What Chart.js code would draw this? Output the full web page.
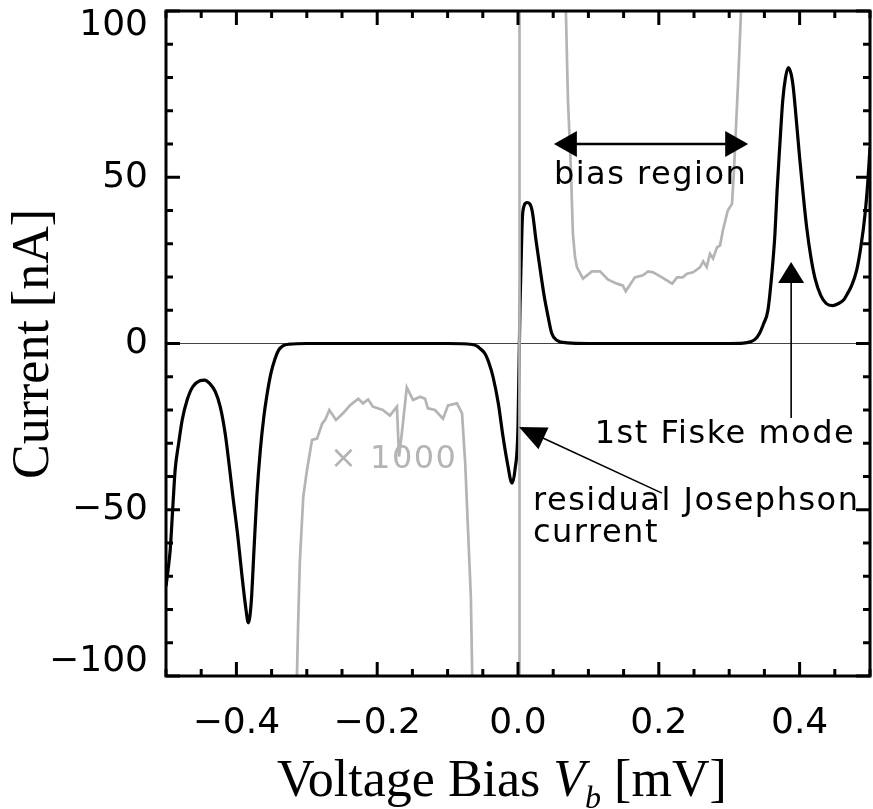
<!DOCTYPE html>
<html><head><meta charset="utf-8">
<script src="https://cdn.jsdelivr.net/npm/chart.js@4"></script>
<style>html,body{margin:0;padding:0;background:#fff}canvas{display:block}</style>
</head><body>
<canvas id="c" width="873" height="809"></canvas>
<script>
// ---- data ----
const xTickValues = [-0.4, -0.2, 0.0, 0.2, 0.4];
const xTickLabels = ['\u22120.4', '\u22120.2', '0.0', '0.2', '0.4'];
const yTickValues = [-100, -50, 0, 50, 100];
const yTickLabels = [['\u2212100', ''], '\u221250', '0', '50', ['', '100']];

// measured current (nA) vs voltage bias (mV)
const biasV = [-0.5,-0.497,-0.494,-0.49,-0.487,-0.482,-0.477,-0.47,-0.462,-0.452,-0.445,-0.438,-0.43,-0.423,-0.416,-0.41,-0.405,-0.398,-0.392,-0.387,-0.383,-0.379,-0.375,-0.371,-0.366,-0.361,-0.357,-0.351,-0.345,-0.34,-0.334,-0.325,-0.3,-0.2,-0.1,-0.065,-0.058,-0.054,-0.047,-0.041,-0.0355,-0.028,-0.0213,-0.015,-0.0085,-0.0043,0,0.0028,0.0057,0.0071,0.0128,0.02,0.0256,0.031,0.037,0.043,0.048,0.055,0.07,0.1,0.2,0.3,0.32,0.33,0.337,0.343,0.349,0.355,0.361,0.365,0.368,0.372,0.376,0.38,0.384,0.388,0.391,0.395,0.4,0.405,0.41,0.416,0.422,0.43,0.438,0.447,0.455,0.462,0.468,0.474,0.481,0.487,0.493,0.497,0.5];
const currentI = [-73,-68,-62,-48,-38,-30,-23,-17,-13,-11.2,-11,-12,-14.5,-19,-27,-37,-46,-58,-70,-79,-84,-78,-62,-46,-32,-22,-16,-9,-4.5,-2,-0.7,-0.2,0,0,0,-0.3,-0.8,-1.5,-3,-6,-10,-18,-28,-36,-42,-38,-25,11,35,40,42.4,40,31,23,14.5,7.8,3,1,0.2,0,0,0,0.1,0.5,1.3,3,6,10,22,33,46,60,73,80,83,81,77,68,56,45,35,26,19.5,14.5,12,11.4,12,13,15,17.5,22,29,39,49,59];

// current x 1000 (grey trace, runs off scale)
const scaledV = [-0.33,-0.314,-0.3125,-0.31,-0.305,-0.2997,-0.2926,-0.2855,-0.278,-0.274,-0.268,-0.2585,-0.2486,-0.2386,-0.227,-0.22,-0.213,-0.206,-0.192,-0.182,-0.172,-0.169,-0.165,-0.158,-0.149,-0.139,-0.132,-0.128,-0.118,-0.1065,-0.0994,-0.0866,-0.0795,-0.075,-0.071,-0.067,-0.065,-0.055,0.0015,0.0021,0.055,0.068,0.071,0.075,0.078,0.081,0.0838,0.0923,0.105,0.1165,0.128,0.1406,0.149,0.153,0.166,0.1776,0.1847,0.192,0.2045,0.219,0.226,0.234,0.24,0.2486,0.2585,0.263,0.268,0.2727,0.277,0.2827,0.287,0.291,0.298,0.304,0.307,0.3125,0.3168,0.33];
const scaledI = [-250,-100,-86,-66,-46,-38,-29,-28.6,-24,-23,-20,-23,-21,-18.6,-16.6,-18,-16.8,-19,-20,-21.7,-19,-34,-27,-13.2,-17,-16,-16.6,-19.5,-20,-22.6,-18.6,-18,-21,-36,-56,-76,-100,-250,-250,250,250,100,73,53,33,26,22.9,19.5,21.7,21.7,19.2,18,17.4,15.7,19.9,20.5,21.7,21.4,19.9,18,19.9,19.9,21,21.4,22.9,24.7,23,27,25.6,28.9,29.5,34,40,42,53,78,100,250];

const zeroV = [-0.5, 0.5];
const zeroI = [0, 0];

// annotations (data coordinates)
const noteTexts = ['bias region', '1st Fiske mode', 'residual Josephson', 'current', '\u00d7 1000'];
const noteX = [0.051, 0.109, 0.0213, 0.0213, -0.267];
const noteY = [47.9, -29.8, -50, -59.7, -37.3];

const GREY = '#b4b4b4';
const toPts = (xs, ys) => xs.map((v, i) => ({x: v, y: ys[i]}));

const decor = {
  id: 'decor',
  afterDatasetsDraw(chart) {
    const {ctx, chartArea: a, scales: {x, y}} = chart;
    ctx.save();
    // inward ticks on all four sides
    ctx.strokeStyle = '#000';
    ctx.lineWidth = 3;
    const seg = (x1, y1, x2, y2) => { ctx.beginPath(); ctx.moveTo(x1, y1); ctx.lineTo(x2, y2); ctx.stroke(); };
    for (let k = -10; k <= 10; k++) {
      const v = k * 0.05;
      const major = xTickValues.some(m => Math.abs(m - v) < 1e-6);
      const L = major ? 14 : 7;
      const px = x.getPixelForValue(v);
      seg(px, a.bottom, px, a.bottom - L);
      seg(px, a.top, px, a.top + L);
    }
    for (let k = -10; k <= 10; k++) {
      const v = k * 10;
      const major = yTickValues.some(m => Math.abs(m - v) < 1e-6);
      const L = major ? 14 : 7;
      const py = y.getPixelForValue(v);
      seg(a.left, py, a.left + L, py);
      seg(a.right, py, a.right - L, py);
    }
    ctx.strokeRect(a.left, a.top, a.right - a.left, a.bottom - a.top);

    // arrows
    const head = (tx, ty, fx, fy, L, W) => {
      const dx = tx - fx, dy = ty - fy, d = Math.hypot(dx, dy);
      const ux = dx / d, uy = dy / d, nx = -uy, ny = ux;
      ctx.beginPath();
      ctx.moveTo(tx, ty);
      ctx.lineTo(tx - L * ux + W * nx, ty - L * uy + W * ny);
      ctx.lineTo(tx - L * ux - W * nx, ty - L * uy - W * ny);
      ctx.closePath();
      ctx.fill();
    };
    ctx.fillStyle = '#000';
    // bias region double arrow
    let ax1 = x.getPixelForValue(0.051), ax2 = x.getPixelForValue(0.327), ay = y.getPixelForValue(60);
    ctx.lineWidth = 2.5;
    seg(ax1 + 10, ay, ax2 - 10, ay);
    head(ax1, ay, ax2, ay, 23, 13);
    head(ax2, ay, ax1, ay, 23, 13);
    // Fiske arrow
    let fx = x.getPixelForValue(0.388), fy1 = y.getPixelForValue(-22.4), fy2 = y.getPixelForValue(24.5);
    ctx.lineWidth = 1.6;
    seg(fx, fy1, fx, fy2 + 10);
    head(fx, fy2, fx, fy1, 21, 13);
    // residual arrow
    let rx1 = x.getPixelForValue(0.2045), ry1 = y.getPixelForValue(-45), rx2 = x.getPixelForValue(0.0014), ry2 = y.getPixelForValue(-25.1);
    seg(rx1, ry1, rx2 + 12, ry2 + 5.5);
    head(rx2, ry2, rx1, ry1, 27, 12);

    // annotation texts
    ctx.font = '32px "DejaVu Sans"';
    ctx.letterSpacing = '1.5px';
    ctx.textAlign = 'left';
    ctx.textBaseline = 'alphabetic';
    noteTexts.forEach((t, i) => {
      ctx.fillStyle = i === 4 ? GREY : '#000';
      ctx.fillText(t, x.getPixelForValue(noteX[i]), y.getPixelForValue(noteY[i]));
    });
    ctx.letterSpacing = '0px';

    // axis titles
    ctx.fillStyle = '#000';
    const serif = '"Liberation Serif", "Times New Roman", serif';
    let cx = 277, by = 796;
    const part = (t, font, dy) => { ctx.font = font; ctx.fillText(t, cx, by + dy); cx += ctx.measureText(t).width; };
    part('Voltage Bias ', '52px ' + serif, 0);
    part('V', 'italic 52px ' + serif, 0);
    part('b', 'italic 32px ' + serif, 12);
    part(' [mV]', '52px ' + serif, 0);

    ctx.save();
    ctx.translate(48, 344);
    ctx.rotate(-Math.PI / 2);
    ctx.textAlign = 'center';
    ctx.font = '52px ' + serif;
    ctx.fillText('Current [nA]', 0, 0);
    ctx.restore();

    ctx.restore();
  }
};

new Chart(document.getElementById('c'), {
  type: 'scatter',
  data: {
    datasets: [
      {label: 'current x 1000', data: toPts(scaledV, scaledI), showLine: true, borderColor: GREY, borderWidth: 2.7, pointRadius: 0, tension: 0},
      {label: 'current', data: toPts(biasV, currentI), showLine: true, borderColor: '#000', borderWidth: 3.2, pointRadius: 0, cubicInterpolationMode: 'monotone'},
      {label: 'zero', data: toPts(zeroV, zeroI), showLine: true, borderColor: '#444', borderWidth: 1, pointRadius: 0}
    ]
  },
  options: {
    responsive: false,
    animation: false,
    events: [],
    layout: {padding: {top: 11, right: 3, bottom: 0, left: 0}},
    plugins: {legend: {display: false}, tooltip: {enabled: false}},
    scales: {
      x: {
        type: 'linear', min: -0.5, max: 0.5,
        grid: {display: false, drawTicks: false},
        border: {display: false},
        afterBuildTicks: s => { s.ticks = xTickValues.map(v => ({value: v})); },
        afterFit: s => { s.height = 133; s.paddingLeft = 0; s.paddingRight = 0; },
        ticks: {
          autoSkip: false, maxRotation: 0, padding: 26, color: '#000',
          font: {family: '"DejaVu Sans"', size: 36},
          callback: (v, i) => xTickLabels[i]
        }
      },
      y: {
        type: 'linear', min: -100, max: 100,
        grid: {display: false, drawTicks: false},
        border: {display: false},
        afterBuildTicks: s => { s.ticks = yTickValues.map(v => ({value: v})); },
        afterFit: s => { s.width = 166; s.paddingTop = 0; s.paddingBottom = 0; },
        ticks: {
          autoSkip: false, padding: 18, color: '#000',
          font: {family: '"DejaVu Sans"', size: 36, lineHeight: 0.8},
          callback: (v, i) => yTickLabels[i]
        }
      }
    }
  },
  plugins: [decor]
});
</script>
</body></html>
